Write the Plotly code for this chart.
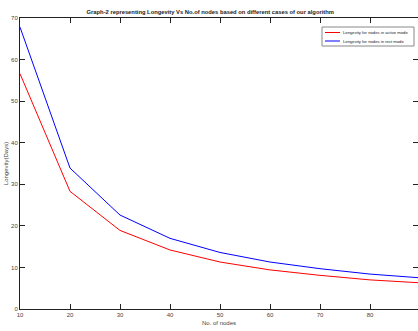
import plotly.graph_objects as go

nodes = [10, 20, 30, 40, 50, 60, 70, 80, 90]
active_mode = [56.6, 28.3, 18.9, 14.2, 11.3, 9.4, 8.1, 7.0, 6.3]
rest_mode = [67.8, 33.9, 22.6, 17.0, 13.6, 11.3, 9.7, 8.4, 7.5]
series_names = ["Longevity for nodes in active mode", "Longevity for nodes in rest mode"]
series_colors = ["#ff0000", "#0000ff"]
x_ticks = [10, 20, 30, 40, 50, 60, 70, 80, 90]
y_ticks = [0, 10, 20, 30, 40, 50, 60, 70]

fig = go.Figure()
for name, vals, col in zip(series_names, [active_mode, rest_mode], series_colors):
    fig.add_trace(go.Scatter(x=nodes, y=vals, mode="lines",
                             line=dict(color=col, width=1), name=name,
                             showlegend=False))

font_family = "Liberation Sans, Arial, sans-serif"
# compact MATLAB-style legend box (paper coordinates)
W, H = 418, 331
L, R, T, B = 20, 0, 18, 22
pw, ph = W - L - R, H - T - B
def px(x): return (x - L) / pw
def py(y): return (H - B - y) / ph

fig.add_shape(type="rect", xref="paper", yref="paper",
              x0=px(322), x1=px(414), y0=py(46), y1=py(27),
              line=dict(color="#888", width=1), fillcolor="white", layer="above")
for i, (name, col) in enumerate(zip(series_names, series_colors)):
    yy = 32.5 + i * 8.5
    fig.add_shape(type="line", xref="paper", yref="paper",
                  x0=px(325), x1=px(340), y0=py(yy), y1=py(yy),
                  line=dict(color=col, width=1), layer="above")
    fig.add_annotation(xref="paper", yref="paper", x=px(341), y=py(yy),
                       xanchor="left", yanchor="middle", showarrow=False,
                       text=name, font=dict(size=4.2, color="#222"))

fig.update_layout(
    width=W, height=H,
    margin=dict(l=L, r=R, t=T, b=B, autoexpand=False),
    paper_bgcolor="white", plot_bgcolor="white",
    font=dict(family=font_family, size=6, color="#444"),
    title=dict(text="<b>Graph-2 representing Longevity Vs No.of nodes based on different cases of our algorithm</b>",
               x=0.503, xanchor="center", y=1 - 12 / H, yanchor="middle",
               font=dict(size=5.8, color="#222")),
    showlegend=False,
    xaxis=dict(range=[10, 89.6], tickvals=x_ticks, ticks="inside", ticklen=5,
               tickcolor="#222", showline=True, linecolor="#222", linewidth=1,
               mirror="ticks", showgrid=False, zeroline=False, automargin=False,
               title=dict(text="No. of nodes", standoff=3, font=dict(size=6, color="#444"))),
    yaxis=dict(range=[0, 70], tickvals=y_ticks, ticks="inside", ticklen=5,
               tickcolor="#222", showline=True, linecolor="#222", linewidth=1,
               mirror="ticks", showgrid=False, zeroline=False, automargin=False,
               title=dict(text="Longevity(Days)", standoff=2, font=dict(size=6, color="#444"))),
)
fig.write_html("out.html", config={"displayModeBar": False},
               post_script="document.body.style.margin='0';document.body.style.overflow='hidden';")
